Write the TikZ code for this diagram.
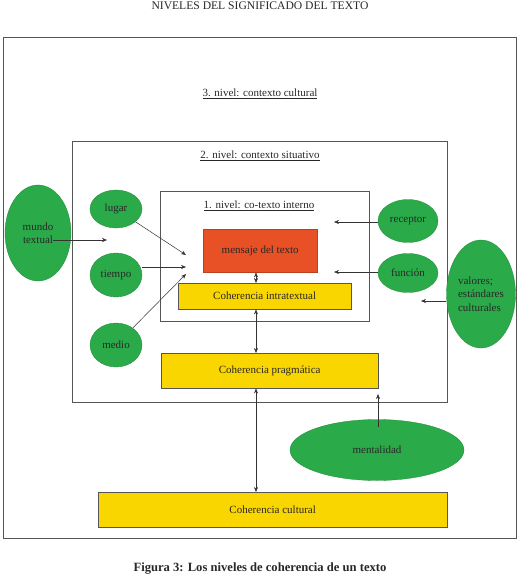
\documentclass[tikz,border=0pt]{standalone}
\usepackage{fontspec}
\setmainfont{Liberation Serif}
\usetikzlibrary{arrows.meta,shapes.geometric}
\definecolor{grn}{RGB}{43,170,74}
\definecolor{redb}{RGB}{232,80,38}
\definecolor{yel}{RGB}{250,214,0}
\definecolor{txt}{RGB}{40,40,40}
\definecolor{ln}{RGB}{85,85,85}
\begin{document}
\begin{tikzpicture}[x=1pt,y=-1pt,
  frame/.style={rectangle,draw=ln,line width=0.6pt,inner sep=0pt,anchor=north west},
  lbl/.style={font=\fontsize{11}{13}\selectfont,text=txt,inner sep=0pt},
  ell/.style={ellipse,fill=grn,draw=grn!80!black,line width=0.3pt,inner sep=0pt,font=\fontsize{11}{13.5}\selectfont,text=txt},
  ybox/.style={rectangle,fill=yel,draw=ln,line width=0.4pt,inner sep=0pt,anchor=north west,font=\fontsize{11}{13}\selectfont,text=txt},
  rbox/.style={rectangle,fill=redb,draw=redb!80!black,line width=0.4pt,inner sep=0pt,anchor=north west,font=\fontsize{11}{13}\selectfont,text=txt},
  arr/.style={draw=ln!60!black,line width=0.5pt,-{Stealth[length=5pt,width=4pt]}},
  darr/.style={draw=ln!60!black,line width=0.5pt,{Stealth[length=5pt,width=4pt]}-{Stealth[length=5pt,width=4pt]}}
]
\useasboundingbox (0,0) rectangle (519,579);
\fill[white] (0,0) rectangle (519,579);

% title
\node[lbl,font=\fontsize{11.6}{13}\selectfont] (title) at (260,6) {NIVELES DEL SIGNIFICADO DEL TEXTO};

% frames
\node[frame,minimum width=513pt,minimum height=501pt] (n3) at (3,37) {};
\node[frame,minimum width=375pt,minimum height=261pt] (n2) at (72,141) {};
\node[frame,minimum width=209pt,minimum height=130pt] (n1) at (160,191) {};

\node[lbl] (t3) at (260,94) {\underline{3. nivel: contexto cultural}};
\node[lbl] (t2) at (260,156) {\underline{2. nivel: contexto situativo}};
\node[lbl] (t1) at (259,206) {\underline{1. nivel: co-texto interno}};

% boxes
\node[rbox,minimum width=114pt,minimum height=43pt] (mensaje) at (203,229) {mensaje del texto};
\node[ybox,minimum width=173pt,minimum height=26pt] (intra) at (178,283) {Coherencia intratextual};
\node[ybox,minimum width=217pt,minimum height=35pt] (prag) at (161,353) {Coherencia pragmática};
\node[ybox,minimum width=349pt,minimum height=35pt] (cult) at (98,492) {Coherencia cultural};

% ellipses
\node[ell,minimum width=66pt,minimum height=96pt,align=center] (mundo) at (38,233) {mundo\\textual};
\node[ell,minimum width=52pt,minimum height=38pt] (lugar) at (116,209) {lugar};
\node[ell,minimum width=52pt,minimum height=44pt] (tiempo) at (116,275) {tiempo};
\node[ell,minimum width=52pt,minimum height=44pt] (medio) at (116,345) {medio};
\node[ell,minimum width=60pt,minimum height=43pt] (receptor) at (408,221) {receptor};
\node[ell,minimum width=60pt,minimum height=39pt] (funcion) at (408,273) {función};
\node[ell,minimum width=69pt,minimum height=108pt,align=left] (valores) at (481,294) {valores;\\estándares\\culturales};
\node[ell,minimum width=174pt,minimum height=61pt] (menta) at (377,450) {mentalidad};

% free ends
\coordinate (mundoA) at (53,240);
\coordinate (mundoB) at (107,240);
\coordinate (lugarB) at (186,255);
\coordinate (tiempoB) at (186,267);
\coordinate (medioB) at (186,274);
\coordinate (recB) at (334,222);
\coordinate (funB) at (334,272);
\coordinate (valB) at (421,301);
\coordinate (menB) at (378,394);
\coordinate (ax) at (256,0);

% arrows
\draw[arr] (mundoA) -- (mundoB);
\draw[arr] (lugar) -- (lugarB);
\draw[arr] (tiempo.east |- tiempoB) -- (tiempoB);
\draw[arr] (medio) -- (medioB);
\draw[arr] (receptor.west |- recB) -- (recB);
\draw[arr] (funcion.west |- funB) -- (funB);
\draw[arr] (valores.west |- valB) -- (valB);
\draw[arr] ([yshift=-8pt]menta.north -| menB) -- (menB);

\draw[darr] (mensaje.south -| ax) -- (intra.north -| ax);
\draw[darr] (intra.south -| ax) -- (prag.north -| ax);
\draw[darr] (prag.south -| ax) -- (cult.north -| ax);

% caption
\node[lbl,font=\bfseries\fontsize{12.6}{15}\selectfont] (caption) at (260,569) {Figura 3: Los niveles de coherencia de un texto};
\end{tikzpicture}
\end{document}
